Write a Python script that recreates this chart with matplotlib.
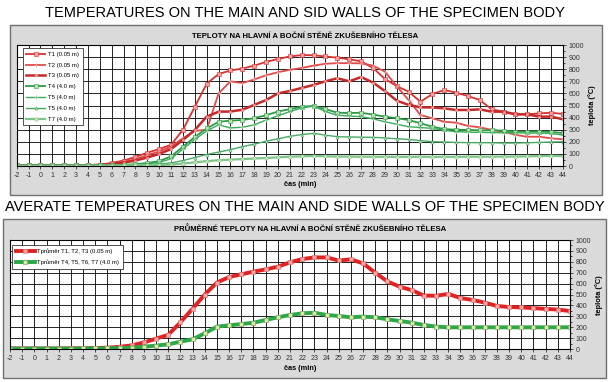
import matplotlib
matplotlib.use('Agg')
import matplotlib.pyplot as plt
from matplotlib.patches import Rectangle
from matplotlib.ticker import MultipleLocator

plt.rcParams['font.family'] = ['Liberation Sans', 'DejaVu Sans']
plt.rcParams['axes.unicode_minus'] = False

# time axis (min)
t = list(range(-2, 45))

# wall temperatures, top chart (°C)
T1 = [5, 5, 5, 5, 5, 6, 8, 12, 25, 45, 75, 110, 140, 175, 300, 490, 680,
      760, 790, 805, 830, 860, 885, 905, 917, 915, 905, 895, 882, 865, 810,
      720, 660, 614, 531, 595, 628, 606, 578, 545, 468, 449, 427, 427, 435,
      440, 430]
T2 = [5, 5, 5, 5, 5, 6, 7, 10, 20, 35, 55, 90, 120, 160, 230, 290, 300,
      600, 700, 685, 715, 750, 775, 795, 810, 830, 845, 850, 850, 848, 830,
      780, 660, 545, 421, 394, 366, 358, 331, 320, 298, 284, 257, 242, 242,
      229, 220]
T3 = [4, 4, 4, 4, 5, 5, 6, 8, 15, 28, 45, 70, 100, 140, 215, 298, 408,
      449, 450, 465, 505, 545, 600, 620, 645, 670, 700, 725, 700, 735, 690,
      620, 540, 505, 485, 484, 476, 463, 463, 468, 449, 449, 427, 427, 408,
      408, 386]
T4 = [5, 5, 5, 5, 5, 5, 5, 6, 7, 10, 15, 25, 40, 80, 160, 240, 310,
      365, 375, 380, 395, 420, 450, 470, 490, 496, 470, 440, 438, 440, 425,
      408, 395, 380, 353, 325, 305, 300, 298, 295, 295, 292, 285, 285, 285,
      282, 272]
T5 = [4, 4, 4, 4, 4, 4, 5, 5, 6, 8, 12, 20, 30, 60, 140, 220, 290,
      340, 315, 320, 340, 380, 415, 450, 480, 496, 450, 420, 412, 408, 390,
      366, 345, 325, 318, 311, 295, 284, 280, 278, 276, 275, 275, 272, 272,
      270, 255]
T6 = [3, 3, 3, 3, 3, 3, 4, 4, 5, 6, 8, 12, 18, 25, 45, 70, 95,
      115, 135, 160, 180, 205, 225, 245, 260, 270, 255, 242, 240, 238, 237,
      232, 225, 220, 210, 201, 198, 195, 193, 193, 192, 190, 190, 192, 195,
      198, 200]
T7 = [2, 2, 2, 2, 2, 2, 3, 3, 4, 5, 6, 7, 8, 12, 20, 30, 40,
      48, 53, 57, 62, 66, 72, 77, 80, 83, 80, 78, 78, 77, 77,
      76, 76, 76, 76, 76, 76, 76, 77, 77, 77, 78, 78, 80, 82, 84, 82]

# averages, bottom chart (°C)
avg_hot = [5, 5, 5, 5, 5, 6, 7, 9, 12, 20, 33, 60, 95, 130, 245, 370, 500,
           610, 660, 685, 710, 730, 755, 795, 825, 840, 840, 812, 822, 786,
           700, 620, 572, 540, 490, 488, 505, 468, 450, 425, 395, 385, 382,
           375, 368, 362, 348]
avg_cold = [4, 4, 4, 4, 4, 4, 5, 5, 6, 8, 12, 21, 31, 43, 67, 89, 144,
            205, 217, 229, 241, 266, 291, 312, 327, 333, 312, 303, 291, 297,
            291, 272, 257, 242, 220, 205, 199, 199, 199, 199, 199, 199, 199,
            199, 199, 199, 199]

labels_top = ['T1 (0.05 m)', 'T2 (0.05 m)', 'T3 (0.05 m)', 'T4 (4.0 m)',
              'T5 (4.0 m)', 'T5 (4.0 m)', 'T7 (4.0 m)']
labels_bot = ['Tprůměr T1, T2, T3 (0.05 m)', 'Tprůměr T4, T5, T6, T7 (4.0 m)']

W, H = 609, 382
fig = plt.figure(figsize=(W / 100, H / 100), dpi=100)


def box(x0, y0, x1, y1):
    fig.add_artist(Rectangle((x0 / W, 1 - y1 / H), (x1 - x0) / W, (y1 - y0) / H,
                             transform=fig.transFigure, fc='#dadada',
                             ec='#707070', lw=1, zorder=0))


def axes(x0, x1, ytop, ybot):
    return fig.add_axes([x0 / W, 1 - ybot / H, (x1 - x0) / W, (ybot - ytop) / H])


def style(ax):
    ax.set_xlim(-2, 44)
    ax.set_ylim(0, 1000)
    ax.set_xticks(t)
    ax.set_yticks(range(0, 1001, 100))
    ax.yaxis.set_minor_locator(MultipleLocator(50))
    ax.yaxis.tick_right()
    ax.grid(True, color='black', lw=0.6)
    ax.set_axisbelow(True)
    ax.tick_params(labelsize=5, colors='#333333', length=2.5, pad=1.5, width=0.6)
    ax.tick_params(which='minor', length=1.5, width=0.5)
    for s in ax.spines.values():
        s.set_linewidth(0.8)


box(10, 25, 602, 195)
box(3, 219, 606, 378)

fig.text(305 / W, 1 - 13 / H, 'TEMPERATURES ON THE MAIN AND SID WALLS OF THE SPECIMEN BODY',
         ha='center', va='center', fontsize=10.5)
fig.text(305 / W, 1 - 207 / H,
         'AVERATE TEMPERATURES ON THE MAIN AND SIDE WALLS OF THE SPECIMEN BODY',
         ha='center', va='center', fontsize=10.5)

# top chart
ax = axes(16.7, 563, 45, 166)
style(ax)
reds = ['#d93030', '#e04a4a', '#c42a2a']
greens = ['#2c9a48', '#3aaa5c', '#4aa866', '#7cc48a']
ax.plot(t, T1, color=reds[0], lw=1.3, marker='s', ms=2.2, mfc='#f2a0a0', mec=reds[0], mew=0.4)
ax.plot(t, T2, color=reds[1], lw=1.3, marker='+', ms=3, mec='#f09090', mew=0.6)
ax.plot(t, T3, color=reds[2], lw=1.8, marker='o', ms=2, mfc='#f2a0a0', mec='#e08080', mew=0.3)
ax.plot(t, T4, color=greens[0], lw=1.3, marker='s', ms=2.2, mfc='#b8e0b0', mec=greens[0], mew=0.4)
ax.plot(t, T5, color=greens[1], lw=1.0, marker='+', ms=3, mec='#90d090', mew=0.6)
ax.plot(t, T6, color=greens[2], lw=1.0, marker='^', ms=2.2, mfc='#c8e8c0', mec=greens[2], mew=0.4)
ax.plot(t, T7, color=greens[3], lw=1.6, marker='o', ms=2.4, mfc='#c8e8b0', mec='#90c090', mew=0.4)
leg = ax.legend(labels_top, loc='upper left', bbox_to_anchor=(0.011, 0.975),
                fontsize=4.3, frameon=True, fancybox=False, edgecolor='#333333',
                framealpha=1, handlelength=3.2, labelspacing=0.95, borderpad=0.6,
                handletextpad=0.5, borderaxespad=0)
leg.get_frame().set_linewidth(0.6)
fig.text(305 / W, 1 - 36 / H, 'TEPLOTY NA HLAVNÍ A BOČNÍ STĚNĚ ZKUŠEBNÍHO TĚLESA',
         ha='center', va='center', fontsize=5.6, fontweight='bold')
fig.text(300 / W, 1 - 185 / H, 'čas (min)', ha='center', va='center',
         fontsize=5.3, fontweight='bold')
fig.text(592 / W, 1 - 105 / H, 'teplota (°C)', ha='center', va='center',
         fontsize=5.3, fontweight='bold', rotation=90)

# bottom chart
bx = axes(10, 570, 240, 349)
style(bx)
bx.plot(t, avg_hot, color='#e02222', lw=2.8, marker='s', ms=2.4,
        mfc='#f4a8a8', mec='#e07070', mew=0.4)
bx.plot(t, avg_cold, color='#2aa84a', lw=2.8, marker='s', ms=3.2,
        mfc='#dde8a8', mec='#88aa66', mew=0.5)
leg2 = bx.legend(labels_bot, loc='upper left', bbox_to_anchor=(0.004, 0.955),
                 fontsize=4.3, frameon=True, fancybox=False, edgecolor='#333333',
                 framealpha=1, handlelength=3.2, labelspacing=0.9, borderpad=0.6,
                 handletextpad=0.4, borderaxespad=0)
leg2.get_frame().set_linewidth(0.6)
fig.text(310 / W, 1 - 229 / H,
         'PRŮMĚRNÉ TEPLOTY NA HLAVNÍ A BOČNÍ STĚNĚ ZKUŠEBNÍHO TĚLESA',
         ha='center', va='center', fontsize=5.6, fontweight='bold')
fig.text(300 / W, 1 - 368 / H, 'čas (min)', ha='center', va='center',
         fontsize=5.3, fontweight='bold')
fig.text(599 / W, 1 - 295 / H, 'teplota (°C)', ha='center', va='center',
         fontsize=5.3, fontweight='bold', rotation=90)

fig.savefig('out.png', dpi=100)
